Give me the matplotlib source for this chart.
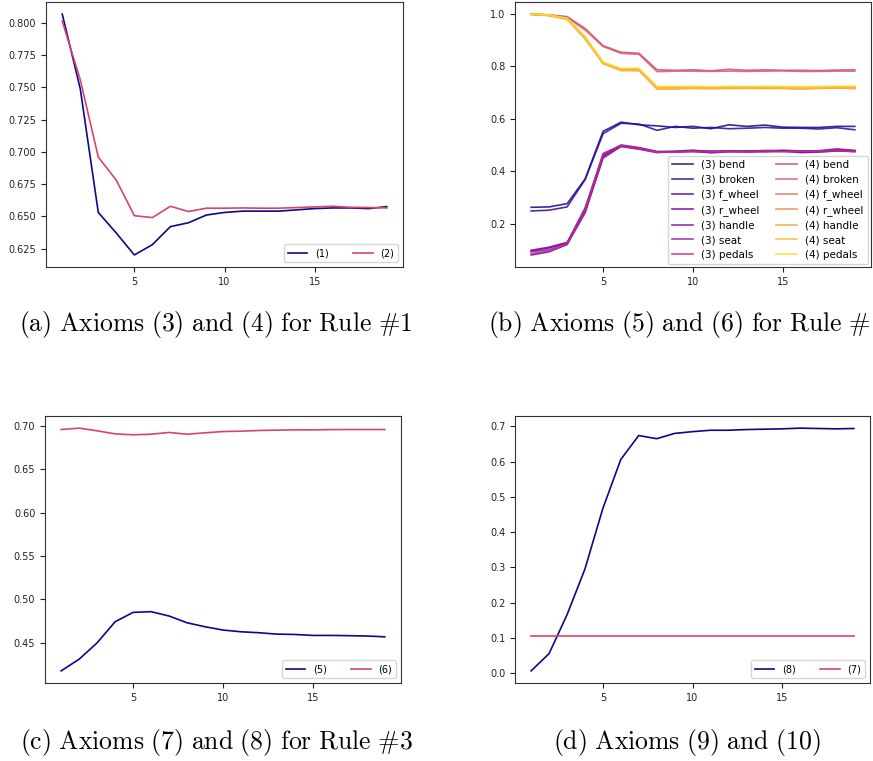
import matplotlib
matplotlib.use("Agg")
import matplotlib.pyplot as plt
import numpy as np

plt.rcParams['mathtext.fontset'] = 'cm'
plt.rcParams['font.size'] = 7

steps = list(range(1, 20))

# (a) axioms (3) and (4)
ax1_s1 = [0.807, 0.749, 0.653, 0.637, 0.620, 0.628, 0.642, 0.645, 0.651, 0.653,
          0.654, 0.654, 0.654, 0.655, 0.656, 0.6565, 0.6565, 0.656, 0.6575]
ax1_s2 = [0.8015, 0.756, 0.696, 0.678, 0.6505, 0.649, 0.6578, 0.6537, 0.6563, 0.6563,
          0.6565, 0.6563, 0.6563, 0.6568, 0.6573, 0.6578, 0.657, 0.6568, 0.6565]

# (b) axioms (5) and (6), per part
parts = ['bend', 'broken', 'f_wheel', 'r_wheel', 'handle', 'seat', 'pedals']
ax2_3 = {
    'bend':    [0.262, 0.2635, 0.276, 0.370, 0.552, 0.587, 0.577, 0.573, 0.567, 0.571,
                0.562, 0.577, 0.571, 0.576, 0.568, 0.567, 0.567, 0.571, 0.571],
    'broken':  [0.248, 0.251, 0.2635, 0.368, 0.543, 0.583, 0.580, 0.556, 0.571, 0.564,
                0.567, 0.562, 0.564, 0.567, 0.564, 0.564, 0.561, 0.566, 0.558],
    'f_wheel': [0.095, 0.107, 0.126, 0.260, 0.460, 0.497, 0.488, 0.474, 0.476, 0.480,
                0.474, 0.478, 0.476, 0.479, 0.477, 0.474, 0.476, 0.482, 0.478],
    'r_wheel': [0.080, 0.092, 0.120, 0.245, 0.450, 0.495, 0.485, 0.472, 0.473, 0.476,
                0.470, 0.474, 0.473, 0.475, 0.476, 0.471, 0.473, 0.477, 0.475],
    'handle':  [0.098, 0.110, 0.128, 0.250, 0.465, 0.500, 0.490, 0.475, 0.474, 0.478,
                0.477, 0.475, 0.478, 0.477, 0.480, 0.477, 0.478, 0.485, 0.479],
    'seat':    [0.092, 0.100, 0.122, 0.240, 0.455, 0.494, 0.484, 0.471, 0.475, 0.474,
                0.473, 0.477, 0.475, 0.474, 0.476, 0.478, 0.474, 0.479, 0.476],
    'pedals':  [0.085, 0.095, 0.125, 0.255, 0.468, 0.498, 0.487, 0.473, 0.472, 0.477,
                0.475, 0.476, 0.474, 0.478, 0.474, 0.476, 0.477, 0.480, 0.474],
}
ax2_4 = {
    'bend':    [1.000, 0.997, 0.990, 0.945, 0.879, 0.854, 0.850, 0.787, 0.785, 0.787,
                0.783, 0.789, 0.785, 0.787, 0.785, 0.785, 0.784, 0.786, 0.787],
    'broken':  [1.000, 0.996, 0.987, 0.939, 0.876, 0.850, 0.846, 0.780, 0.782, 0.782,
                0.781, 0.782, 0.781, 0.782, 0.783, 0.781, 0.781, 0.782, 0.782],
    'f_wheel': [0.999, 0.995, 0.982, 0.910, 0.813, 0.788, 0.788, 0.718, 0.718, 0.720,
                0.717, 0.719, 0.718, 0.718, 0.717, 0.716, 0.718, 0.719, 0.718],
    'r_wheel': [0.998, 0.994, 0.980, 0.905, 0.811, 0.784, 0.784, 0.714, 0.714, 0.716,
                0.715, 0.716, 0.716, 0.716, 0.716, 0.714, 0.716, 0.718, 0.715],
    'handle':  [1.000, 0.996, 0.983, 0.912, 0.815, 0.790, 0.790, 0.721, 0.721, 0.721,
                0.719, 0.722, 0.722, 0.721, 0.721, 0.720, 0.721, 0.722, 0.721],
    'seat':    [0.999, 0.995, 0.981, 0.908, 0.812, 0.786, 0.786, 0.716, 0.716, 0.718,
                0.716, 0.718, 0.717, 0.718, 0.717, 0.716, 0.717, 0.719, 0.717],
    'pedals':  [1.000, 0.997, 0.984, 0.914, 0.816, 0.792, 0.793, 0.723, 0.723, 0.724,
                0.722, 0.724, 0.723, 0.724, 0.723, 0.722, 0.723, 0.725, 0.724],
}

# (c) axioms (7) and (8)
ax3_s5 = [0.4176, 0.4311, 0.450, 0.4743, 0.4851, 0.4859, 0.4809, 0.4731, 0.4685, 0.4647,
          0.4627, 0.4616, 0.4600, 0.4596, 0.4585, 0.4585, 0.4582, 0.4578, 0.4569]
ax3_s6 = [0.6961, 0.6977, 0.6946, 0.6911, 0.6900, 0.6907, 0.6927, 0.6907, 0.6923, 0.6938,
          0.6942, 0.6950, 0.6954, 0.6957, 0.6957, 0.6960, 0.6961, 0.6961, 0.6961]

# (d) axioms (9) and (10)
ax4_s8 = [0.006, 0.055, 0.165, 0.295, 0.467, 0.606, 0.674, 0.665, 0.680, 0.685,
          0.689, 0.689, 0.691, 0.692, 0.693, 0.695, 0.694, 0.693, 0.694]
ax4_s7 = [0.106] * 19

# caption (b) is cut at the page edge in the source, only "Rule #" shows
captions = [r'$\mathrm{(a)\ Axioms\ (3)\ and\ (4)\ for\ Rule\ \#1}$',
            r'$\mathrm{(b)\ Axioms\ (5)\ and\ (6)\ for\ Rule\ \#}$',
            r'$\mathrm{(c)\ Axioms\ (7)\ and\ (8)\ for\ Rule\ \#3}$',
            r'$\mathrm{(d)\ Axioms\ (9)\ and\ (10)}$']

blue = '#0d0887'
pink = '#d8436f'

fig = plt.figure(figsize=(8.73, 7.61), dpi=100)
W, H = 873, 761

def make_ax(l, r, t, b):
    ax = fig.add_axes([l / W, 1 - b / H, (r - l) / W, (b - t) / H])
    for s in ax.spines.values():
        s.set_color('#333333')
        s.set_linewidth(0.8)
    ax.tick_params(labelsize=7, colors='#222222')
    ax.set_xticks([0, 5, 10, 15])
    return ax

axa = make_ax(46, 403, 2, 267)
axa.plot(steps, ax1_s1, color=blue, lw=1.2, label='(1)')
axa.plot(steps, ax1_s2, color=pink, lw=1.2, label='(2)')
axa.set_yticks([0.625, 0.650, 0.675, 0.700, 0.725, 0.750, 0.775, 0.800])
axa.yaxis.set_major_formatter(matplotlib.ticker.FormatStrFormatter('%.3f'))
axa.legend(loc='lower right', ncol=2, fontsize=7, columnspacing=2.5)

axb = make_ax(515, 871, 2, 267)
cols = plt.cm.plasma(np.linspace(0.0, 0.93, 14))
for i, p in enumerate(parts):
    axb.plot(steps, ax2_3[p], color=cols[i], lw=1.2, alpha=0.85, label='(3) ' + p)
for i, p in enumerate(parts):
    axb.plot(steps, ax2_4[p], color=cols[i + 7], lw=1.2, alpha=0.85, label='(4) ' + p)
axb.set_yticks([0.2, 0.4, 0.6, 0.8, 1.0])
axb.legend(loc='lower right', ncol=2, fontsize=7.5, labelspacing=0.45,
           columnspacing=1.6, borderaxespad=0.3)

axc = make_ax(45, 401, 416, 683)
axc.plot(steps, ax3_s5, color=blue, lw=1.2, label='(5)')
axc.plot(steps, ax3_s6, color=pink, lw=1.2, label='(6)')
axc.set_yticks([0.45, 0.50, 0.55, 0.60, 0.65, 0.70])
axc.yaxis.set_major_formatter(matplotlib.ticker.FormatStrFormatter('%.2f'))
axc.legend(loc='lower right', ncol=2, fontsize=7, columnspacing=2.5)

axd = make_ax(515, 870, 416, 683)
axd.plot(steps, ax4_s8, color=blue, lw=1.2, label='(8)')
axd.plot(steps, ax4_s7, color=pink, lw=1.2, label='(7)')
axd.set_yticks([0.0, 0.1, 0.2, 0.3, 0.4, 0.5, 0.6, 0.7])
axd.legend(loc='lower right', ncol=2, fontsize=7, columnspacing=2.5)

cap_pos = [(216, 324, 'center'), (871, 324, 'right'),
           (216, 742, 'center'), (687, 742, 'center')]
for (cx, cy, ha), txt in zip(cap_pos, captions):
    fig.text(cx / W, 1 - cy / H, txt, ha=ha, va='center', fontsize=18.5)

fig.savefig('out.png', dpi=100)
